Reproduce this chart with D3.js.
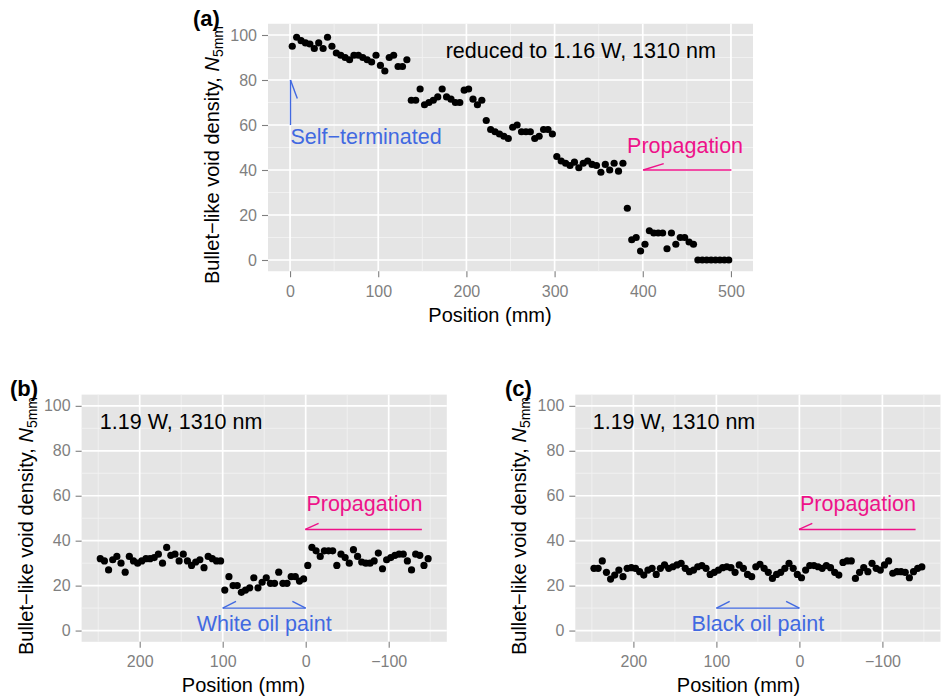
<!DOCTYPE html>
<html><head><meta charset="utf-8">
<script src="https://cdn.jsdelivr.net/npm/d3@7"></script>
<style>body{margin:0;background:#fff} svg{display:block}</style>
</head><body>
<svg id="chart" width="941" height="699"></svg>
<script>
// ---------------- data ----------------
const posA = [2.5,7.5,12.5,17.5,22.5,27.5,32.5,37.5,42.5,47.5,
  52.5,57.5,62.5,67.5,72.5,77.5,82.5,87.5,92.5,97.5,
  102.5,107.5,112.5,117.5,122.5,127.5,132.5,137.5,142.5,147.5,
  152.5,157.5,162.5,167.5,172.5,177.5,182.5,187.5,192.5,197.5,
  202.5,207.5,212.5,217.5,222.5,227.5,232.5,237.5,242.5,247.5,
  252.5,257.5,262.5,267.5,272.5,277.5,282.5,287.5,292.5,297.5,
  302.5,307.5,312.5,317.5,322.5,327.5,332.5,337.5,342.5,347.5,
  352.5,357.5,362.5,367.5,372.5,377.5,382.5,387.5,392.5,397.5,
  402.5,407.5,412.5,417.5,422.5,427.5,432.5,437.5,442.5,447.5,
  452.5,457.5,462.5,467.5,472.5,477.5,482.5,487.5,492.5,497.5];
const densityA = [95,99,97.5,96.5,96,94,96.5,94,99,95,
  92,91,90,89,91,91,90,89,88,91,
  86.5,84,90,91,86,86,89,71,71,76,
  69,70,71,72.5,76,72.5,71.5,70,70,75.5,
  76,71.5,69,71,62,58,57,56,55,54,
  59,60,57,57,57,54,55,58,58,56,
  46,44,43,42,43.5,41,43,44,42.5,42,
  39,42.5,40,43,39.5,43,23,9,10,4,
  7,13,12,12,12,5,12,7,10,10,
  8,7,0,0,0,0,0,0,0,0];
const posBC = [247.5,242.5,237.5,232.5,227.5,222.5,217.5,212.5,207.5,202.5,
  197.5,192.5,187.5,182.5,177.5,172.5,167.5,162.5,157.5,152.5,
  147.5,142.5,137.5,132.5,127.5,122.5,117.5,112.5,107.5,102.5,
  97.5,92.5,87.5,82.5,77.5,72.5,67.5,62.5,57.5,52.5,
  47.5,42.5,37.5,32.5,27.5,22.5,17.5,12.5,7.5,2.5,
  -2.5,-7.5,-12.5,-17.5,-22.5,-27.5,-32.5,-37.5,-42.5,-47.5,
  -52.5,-57.5,-62.5,-67.5,-72.5,-77.5,-82.5,-87.5,-92.5,-97.5,
  -102.5,-107.5,-112.5,-117.5,-122.5,-127.5,-132.5,-137.5,-142.5,-147.5];
const densityB = [32,31,27,31.5,33,30,26,33,31,30,
  31,32,32,32.5,34,30,37,33.5,34,31,
  34,31,29,30.5,31.5,28,33,32,31,31,
  18,24,20,20,17,18,19,23.5,19,21.5,
  23.5,21,21,26,21,21,24,24,22,23,
  29,37,35.5,33,35.5,35.5,35.5,29,34,32.5,
  30,36,33,30.5,30,30,31,34.5,27.5,31.5,
  32.5,33.5,34,34,31,27,34,33.5,29,32];
const densityC = [27.7,27.7,31,25.9,22.9,24.7,26.9,24,27.7,28,
  27.7,26.2,24.7,26.9,27.7,25,27.7,29.2,27.7,28.4,
  29.2,29.9,27.7,26.2,26.9,28.4,28.9,27.7,25,25.9,
  26.9,28,28.4,28,25.9,29.2,27.7,25,24,28.4,
  29.5,27.7,25.9,23.2,25,25.9,27.7,29.9,27.7,25,
  23.5,26.9,28.9,28.9,28.4,27.7,28.9,28,25.9,24.7,
  30.3,31,31,23.2,25.9,28,26.2,29.9,27.7,26.9,
  29.2,31,25.5,26.2,26.2,25.9,23.5,26.2,27.7,28.3];

const yTicks = [0,20,40,60,80,100];
const yMinor = [10,30,50,70,90];
const xTicksA = [0,100,200,300,400,500];
const xMinorA = [50,150,250,350,450];
const xTicksBC = [200,100,0,-100];
const xTickLabelsBC = ["200","100","0","\u2212100"];
const xMinorBC = [250,150,50,-50,-150];

// ---------------- styles / layout ----------------
const FONT = "'Liberation Sans', Arial, Helvetica, sans-serif";
const PINK = "#ee1289", BLUE = "#4169e1";
const ANN = 21.5;

const panels = [
  { key:"a", label:"(a)", labelX:193, labelY:26,
    left:268, right:753, top:23.75, bottom:271.25,
    xDomain:[-25,525], pos:posA, vals:densityA,
    xTicks:xTicksA, xLabels:xTicksA.map(String), xMinor:xMinorA,
    xTitle:{x:490, y:322}, yTitle:{x:218.5, y:155},
    texts:[
      {t:"reduced to 1.16 W, 1310 nm", x:176.5, y:93, anchor:"start", color:"#000"},
      {t:"Self\u2212terminated", x:0.5, y:55, anchor:"start", color:BLUE},
      {t:"Propagation", x:448, y:51, anchor:"middle", color:PINK}
    ],
    arrows:[
      {x1:0.5, y1:60, x2:0.5, y2:80, color:BLUE, barbs:[{at:2, dx:6.8, dy:18.6}]},
      {x1:500.5, y1:40, x2:400.5, y2:40, color:PINK, barbs:[{at:2, dx:20.5, dy:-6.3}]}
    ]},
  { key:"b", label:"(b)", labelX:10, labelY:396,
    left:81.6, right:446.8, top:394.6, bottom:641.8,
    xDomain:[270,-170], pos:posBC, vals:densityB,
    xTicks:xTicksBC, xLabels:xTickLabelsBC, xMinor:xMinorBC,
    xTitle:{x:243.5, y:692}, yTitle:{x:32.5, y:526},
    texts:[
      {t:"1.19 W, 1310 nm", x:248, y:93, anchor:"start", color:"#000"},
      {t:"Propagation", x:-70.7, y:56.7, anchor:"middle", color:PINK},
      {t:"White oil paint", x:50, y:3.2, anchor:"middle", color:BLUE}
    ],
    arrows:[
      {x1:-140, y1:45, x2:0.5, y2:45, color:PINK, barbs:[{at:2, dx:13.3, dy:-6}]},
      {x1:100, y1:10, x2:0, y2:10, color:BLUE, barbs:[{at:1, dx:13.3, dy:-6.7},{at:2, dx:-13.3, dy:-6.7}]}
    ]},
  { key:"c", label:"(c)", labelX:505, labelY:396,
    left:575.3, right:940.5, top:394.6, bottom:641.8,
    xDomain:[270,-170], pos:posBC, vals:densityC,
    xTicks:xTicksBC, xLabels:xTickLabelsBC, xMinor:xMinorBC,
    xTitle:{x:738.5, y:692}, yTitle:{x:526, y:526},
    texts:[
      {t:"1.19 W, 1310 nm", x:249, y:93, anchor:"start", color:"#000"},
      {t:"Propagation", x:-70.6, y:56.7, anchor:"middle", color:PINK},
      {t:"Black oil paint", x:50, y:3.2, anchor:"middle", color:BLUE}
    ],
    arrows:[
      {x1:-140, y1:45, x2:0.5, y2:45, color:PINK, barbs:[{at:2, dx:13.3, dy:-6}]},
      {x1:100, y1:10, x2:0, y2:10, color:BLUE, barbs:[{at:1, dx:13.3, dy:-6.7},{at:2, dx:-13.3, dy:-6.7}]}
    ]}
];

const svg = d3.select("#chart").style("font-family", FONT);

panels.forEach(p => {
  const x = d3.scaleLinear().domain(p.xDomain).range([p.left, p.right]);
  const y = d3.scaleLinear().domain([-5,105]).range([p.bottom, p.top]);
  const g = svg.append("g");

  // panel background
  g.append("rect").attr("x", p.left).attr("y", p.top)
    .attr("width", p.right - p.left).attr("height", p.bottom - p.top)
    .attr("fill", "#e5e5e5");

  // minor grid
  g.selectAll(".ymin").data(yMinor).join("line")
    .attr("x1", p.left).attr("x2", p.right)
    .attr("y1", d => y(d)).attr("y2", d => y(d))
    .attr("stroke", "#f2f2f2").attr("stroke-width", 0.9);
  g.selectAll(".xmin").data(p.xMinor).join("line")
    .attr("y1", p.top).attr("y2", p.bottom)
    .attr("x1", d => x(d)).attr("x2", d => x(d))
    .attr("stroke", "#f2f2f2").attr("stroke-width", 0.9);
  // major grid
  g.selectAll(".ymaj").data(yTicks).join("line")
    .attr("x1", p.left).attr("x2", p.right)
    .attr("y1", d => y(d)).attr("y2", d => y(d))
    .attr("stroke", "#fff").attr("stroke-width", 1.7);
  g.selectAll(".xmaj").data(p.xTicks).join("line")
    .attr("y1", p.top).attr("y2", p.bottom)
    .attr("x1", d => x(d)).attr("x2", d => x(d))
    .attr("stroke", "#fff").attr("stroke-width", 1.7);

  // points
  g.selectAll(".pt").data(p.vals).join("circle")
    .attr("cx", (d,i) => x(p.pos[i])).attr("cy", d => y(d))
    .attr("r", 3.6).attr("fill", "#000");

  // axes
  const xAxis = d3.axisBottom(x).tickValues(p.xTicks)
    .tickFormat((d,i) => p.xLabels[i]).tickSize(6).tickPadding(8);
  const yAxis = d3.axisLeft(y).tickValues(yTicks)
    .tickFormat(d => String(d)).tickSize(6).tickPadding(5);
  const gx = g.append("g").attr("transform", `translate(0,${p.bottom})`).call(xAxis);
  const gy = g.append("g").attr("transform", `translate(${p.left},0)`).call(yAxis);
  [gx, gy].forEach(a => {
    a.select(".domain").remove();
    a.selectAll(".tick line").attr("stroke", "#7f7f7f").attr("stroke-width", 1.1);
    a.selectAll(".tick text").attr("fill", "#7f7f7f")
      .style("font-size", "16px").style("font-family", FONT);
  });

  // axis titles
  g.append("text").attr("x", p.xTitle.x).attr("y", p.xTitle.y)
    .attr("text-anchor", "middle").style("font-size", "20px").attr("fill", "#000")
    .text("Position (mm)");
  const yt = g.append("text")
    .attr("transform", `translate(${p.yTitle.x},${p.yTitle.y}) rotate(-90)`)
    .attr("text-anchor", "middle").style("font-size", "20px").attr("fill", "#000");
  yt.append("tspan").text("Bullet\u2212like void density, ");
  yt.append("tspan").style("font-style", "italic").text("N");
  yt.append("tspan").style("font-size", "14px").attr("dy", 4).text("5mm");

  // panel label
  g.append("text").attr("x", p.labelX).attr("y", p.labelY)
    .style("font-size", "22px").style("font-weight", "bold").attr("fill", "#000")
    .text(p.label);

  // annotation texts
  p.texts.forEach(t => {
    g.append("text").attr("x", x(t.x)).attr("y", y(t.y) + 0.358 * ANN)
      .attr("text-anchor", t.anchor).style("font-size", ANN + "px")
      .attr("fill", t.color).text(t.t);
  });

  // arrows
  p.arrows.forEach(a => {
    const X1 = x(a.x1), Y1 = y(a.y1), X2 = x(a.x2), Y2 = y(a.y2);
    g.append("line").attr("x1", X1).attr("y1", Y1).attr("x2", X2).attr("y2", Y2)
      .attr("stroke", a.color).attr("stroke-width", 1.4);
    a.barbs.forEach(b => {
      const tx = b.at === 1 ? X1 : X2, ty = b.at === 1 ? Y1 : Y2;
      g.append("line").attr("x1", tx).attr("y1", ty)
        .attr("x2", tx + b.dx).attr("y2", ty + b.dy)
        .attr("stroke", a.color).attr("stroke-width", 1.4);
    });
  });
});
</script>
</body></html>
